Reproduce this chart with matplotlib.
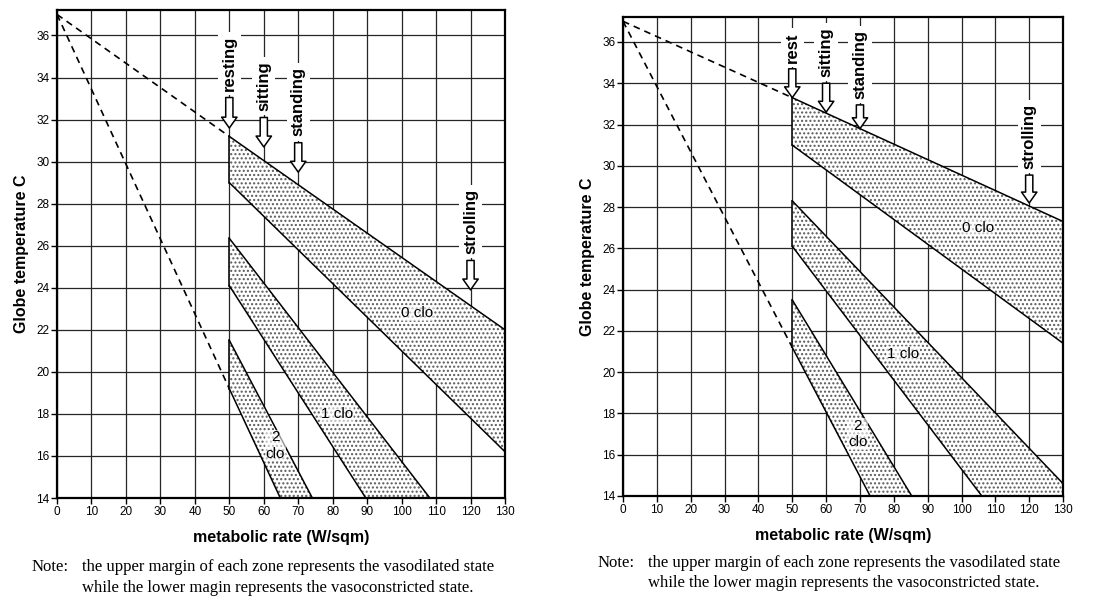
import matplotlib.pyplot as plt

# --- data (metabolic rate W/sqm, globe temperature C) ---
ORIGIN = (0, 37.0)

# left chart: zone edges as (x0, y0, x1, y1)
L_UPPER = {"0 clo": (50, 31.2, 130, 22.0), "1 clo": (50, 26.35, 108.2, 14), "2 clo": (50, 21.5, 74.1, 14)}
L_LOWER = {"0 clo": (50, 29.0, 130, 16.2), "1 clo": (50, 24.1, 89.6, 14), "2 clo": (50, 19.2, 64.8, 14)}
L_LABELS = {"0 clo": (104.5, 22.8), "1 clo": (81.3, 18.0), "2\nclo": (63.3, 16.5)}
L_ACTS = ["resting", "sitting", "standing", "strolling"]
L_ACT_X = [50, 60, 70, 120]
L_ARROW_TOP = [33.05, 32.1, 30.9, 25.3]
L_ARROW_TIP = [31.6, 30.7, 29.5, 23.9]

# right chart
R_UPPER = {"0 clo": (50, 33.3, 130, 27.3), "1 clo": (50, 28.3, 133.5, 14), "2 clo": (50, 23.5, 85.3, 14)}
R_LOWER = {"0 clo": (50, 31.0, 130, 21.4), "1 clo": (50, 26.1, 106.0, 14), "2 clo": (50, 21.2, 73.0, 14)}
R_LABELS = {"0 clo": (104.9, 27.0), "1 clo": (82.7, 20.9), "2\nclo": (69.4, 17.0)}
R_ACTS = ["rest", "sitting", "standing", "strolling"]
R_ACT_X = [50, 60, 70, 120]
R_ARROW_TOP = [34.7, 34.0, 32.95, 29.55]
R_ARROW_TIP = [33.3, 32.6, 31.8, 28.2]

X_TICKS = list(range(0, 131, 10))
Y_TICKS = list(range(14, 37, 2))

NOTE_1 = "the upper margin of each zone represents the vasodilated state"
NOTE_2 = "while the lower magin represents the vasoconstricted state."

plt.rcParams['font.family'] = ['Liberation Sans', 'DejaVu Sans']
plt.rcParams['hatch.linewidth'] = 1.0

fig = plt.figure(figsize=(10.99, 5.97), dpi=100)
ax_l = fig.add_axes([0.0519, 0.1658, 0.4076, 0.817])
ax_r = fig.add_axes([0.5669, 0.1692, 0.4004, 0.802])


def draw(ax, upper, lower, labels, acts, act_x, a_top, a_tip):
    ax.set_xlim(0, 130)
    ax.set_ylim(14, 37.2)
    ax.set_xticks(X_TICKS)
    ax.set_yticks(Y_TICKS)
    ax.grid(True, color='0.15', linewidth=0.9)
    ax.set_axisbelow(True)
    ax.tick_params(direction='out', length=4, width=1, labelsize=8.5, pad=1.5)
    for s in ax.spines.values():
        s.set_linewidth(1.6)

    # dashed extrapolation lines back to skin temperature
    ax.plot([ORIGIN[0], upper["0 clo"][0]], [ORIGIN[1], upper["0 clo"][1]],
            color='black', linestyle=(0, (4, 3)), linewidth=1.2)
    ax.plot([ORIGIN[0], lower["2 clo"][0]], [ORIGIN[1], lower["2 clo"][1]],
            color='black', linestyle=(0, (4, 3)), linewidth=1.2)

    for k in upper:
        u, lo = upper[k], lower[k]
        xs = [u[0], u[2], lo[2], lo[0]]
        ys = [u[1], u[3], lo[3], lo[1]]
        ax.fill(xs, ys, facecolor='white', edgecolor='0.35', hatch='....', linewidth=0, zorder=2)
        ax.plot([u[0], u[2]], [u[1], u[3]], color='black', linewidth=1.1, zorder=3)
        ax.plot([lo[0], lo[2]], [lo[1], lo[3]], color='black', linewidth=1.1, zorder=3)
        ax.plot([u[0], lo[0]], [u[1], lo[1]], color='black', linewidth=1.1, zorder=3)

    for txt, (x, y) in labels.items():
        ax.text(x, y, txt, ha='center', va='center', fontsize=11, linespacing=1.2,
                bbox=dict(facecolor='white', edgecolor='none', pad=0.5, alpha=0.6), zorder=4)

    for name, x, top, tip in zip(acts, act_x, a_top, a_tip):
        ax.annotate('', xy=(x, tip), xytext=(x, top),
                    arrowprops=dict(arrowstyle='simple,head_length=0.6,head_width=0.85,tail_width=0.4',
                                    fc='white', ec='black', lw=1.1, mutation_scale=13,
                                    shrinkA=0, shrinkB=0), zorder=5)
        ax.text(x, top + 0.3, name, rotation=90, ha='center', va='bottom',
                fontsize=12, fontweight='bold',
                bbox=dict(facecolor='white', edgecolor='none', pad=3), zorder=5)

    ax.set_xlabel('metabolic rate (W/sqm)', fontsize=11.5, fontweight='bold', labelpad=9)
    ax.set_ylabel('Globe temperature C', fontsize=11.5, fontweight='bold', labelpad=5)


draw(ax_l, L_UPPER, L_LOWER, L_LABELS, L_ACTS, L_ACT_X, L_ARROW_TOP, L_ARROW_TIP)
draw(ax_r, R_UPPER, R_LOWER, R_LABELS, R_ACTS, R_ACT_X, R_ARROW_TOP, R_ARROW_TIP)

serif = ['Liberation Serif', 'DejaVu Serif']
fig.text(32 / 1099, 1 - 567 / 597, 'Note:', family=serif, fontsize=12, va='center')
fig.text(82 / 1099, 1 - 567 / 597, NOTE_1, family=serif, fontsize=12, va='center')
fig.text(82 / 1099, 1 - 588 / 597, NOTE_2, family=serif, fontsize=12, va='center')
fig.text(598 / 1099, 1 - 563 / 597, 'Note:', family=serif, fontsize=12, va='center')
fig.text(648 / 1099, 1 - 563 / 597, NOTE_1, family=serif, fontsize=12, va='center')
fig.text(648 / 1099, 1 - 583 / 597, NOTE_2, family=serif, fontsize=12, va='center')

fig.savefig('out.png', dpi=100, facecolor='white')
